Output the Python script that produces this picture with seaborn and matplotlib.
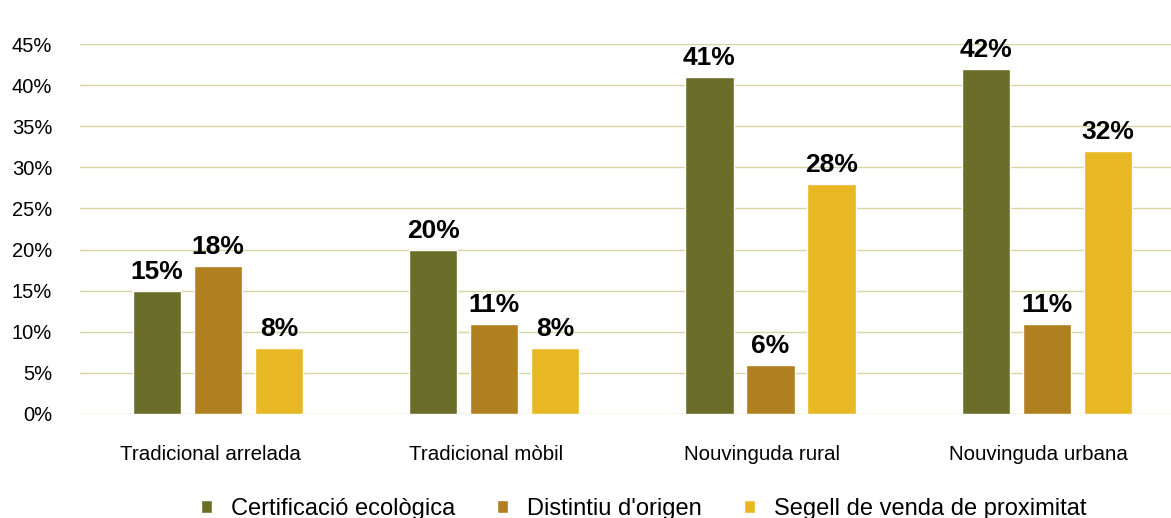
import pandas as pd
import matplotlib.pyplot as plt
import matplotlib.transforms as mtransforms
import seaborn as sns
from matplotlib.ticker import PercentFormatter

categories = ['Tradicional arrelada', 'Tradicional mòbil', 'Nouvinguda rural', 'Nouvinguda urbana']
series = ['Certificació ecològica', "Distintiu d'origen", 'Segell de venda de proximitat']
certificacio = [15, 20, 41, 42]
distintiu = [18, 11, 6, 11]
segell = [8, 8, 28, 32]
colors = ['#6b6e28', '#b08020', '#e8b824']

rows = []
for name, vals in zip(series, [certificacio, distintiu, segell]):
    for cat, v in zip(categories, vals):
        rows.append({'tipus': cat, 'serie': name, 'valor': v})
df = pd.DataFrame(rows)

sns.set_style('white')
plt.rcParams['font.family'] = ['Liberation Sans', 'DejaVu Sans']
plt.rcParams['text.color'] = 'black'
plt.rcParams['xtick.color'] = 'black'
plt.rcParams['ytick.color'] = 'black'

fig = plt.figure(figsize=(11.71, 5.18), dpi=100)
ax = fig.add_axes([0.0683, 0.2008, 0.9317, 0.7142])

sns.barplot(data=df, x='tipus', y='valor', hue='serie', palette=colors, saturation=1,
            width=0.663, gap=0.21, errorbar=None, ax=ax, legend=True, zorder=3)

for cont in ax.containers:
    ax.bar_label(cont, labels=[f'{int(v)}%' for v in cont.datavalues],
                 padding=5, fontsize=19, fontweight='bold', color='black', clip_on=False)

ax.set_ylim(0, 45)
ax.set_xlim(-0.5, 3.45)
ax.set_yticks(range(0, 46, 5))
ax.yaxis.set_major_formatter(PercentFormatter(decimals=0))
ax.grid(axis='y', color='#d8d4a4', linewidth=1, zorder=0)
ax.set_axisbelow(True)
sns.despine(ax=ax, left=True, bottom=True)
ax.tick_params(axis='y', length=0, labelsize=14.5, pad=20)
ax.tick_params(axis='x', length=0, labelsize=14.8, pad=22)
ax.set_xlabel('')
ax.set_ylabel('')

# category labels sit a bit left of the group centres in the original
shift = mtransforms.ScaledTranslation(-8 / 100, 0, fig.dpi_scale_trans)
for lbl in ax.get_xticklabels():
    lbl.set_transform(lbl.get_transform() + shift)

ax.legend(loc='upper center', bbox_to_anchor=(0.5166, -0.17), ncol=3, frameon=False,
          fontsize=17, handlelength=0.45, handleheight=0.45, columnspacing=1.8, handletextpad=0.8)

fig.savefig('out.png', dpi=100)
